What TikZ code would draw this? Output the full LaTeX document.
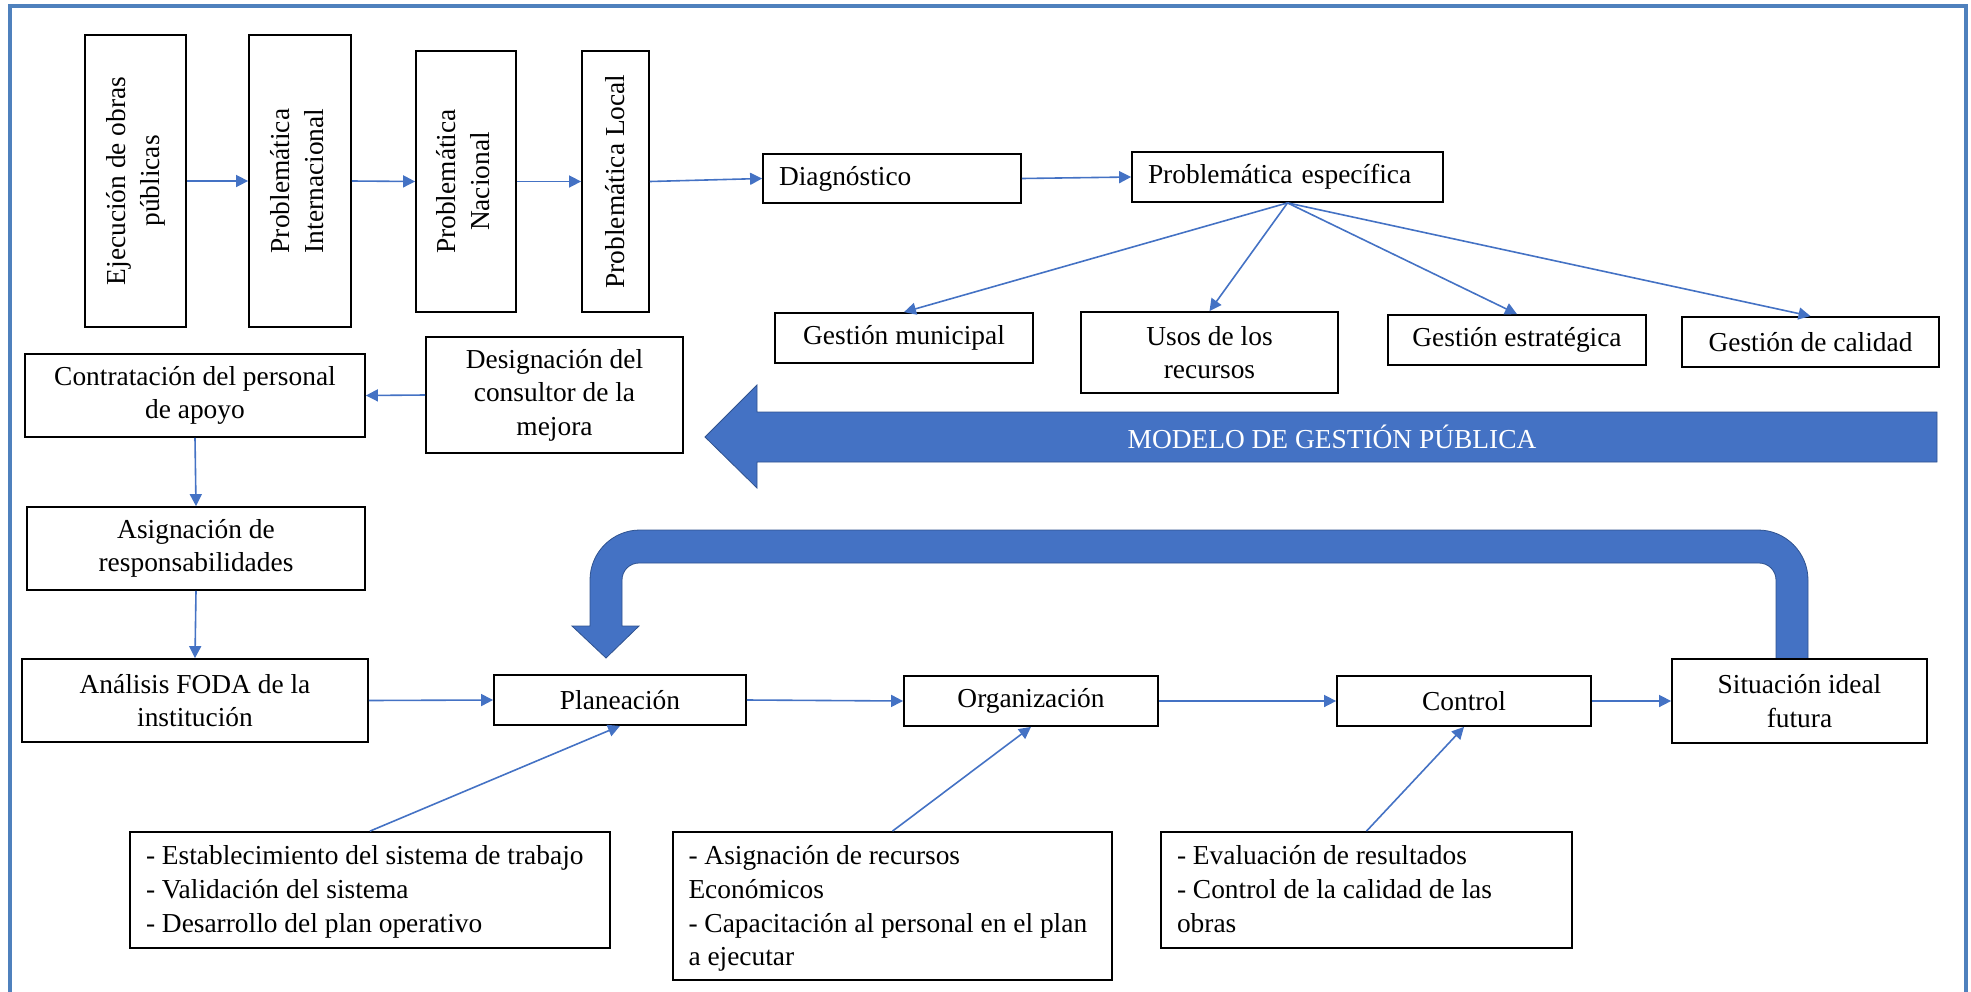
\documentclass[tikz,border=0pt]{standalone}
\usepackage{fontspec}
\setmainfont{Liberation Serif}
\usepackage{graphicx}
\usetikzlibrary{arrows.meta}
\definecolor{lineblue}{HTML}{4472C4}
\definecolor{frameblue}{HTML}{4F81BD}
\definecolor{arrowedge}{HTML}{2F528F}
\begin{document}
\begin{tikzpicture}[x=0.5pt,y=-0.5pt,
  box/.style={draw=black, line width=0.9pt, fill=white, inner sep=0pt, align=center,
    font=\fontsize{13.7}{16.8}\selectfont},
  lbox/.style={box, align=left, inner xsep=8pt},
  conn/.style={draw=lineblue, line width=0.8pt, -{Triangle[length=6pt,width=6pt]}},
  bigarrow/.style={fill=lineblue, draw=arrowedge, line width=0.4pt},
]
\useasboundingbox (0,0) rectangle (1971,991);
\clip (0,0) rectangle (1971,991);
% outer frame
\draw[frameblue, line width=1.6pt] (10,1000) -- (10,6) -- (1966,6) -- (1966,1000);

% big arrows
\fill[bigarrow] (705,437) -- (757,385) -- (757,412) -- (1937,412) -- (1937,462) -- (757,462) -- (757,488) -- cycle;
\node[text=white, font=\fontsize{13.7}{16.8}\selectfont] (modelo) at (1332,437) {MODELO DE GESTIÓN PÚBLICA};

\fill[bigarrow] (1808,660) -- (1808,580) .. controls (1808,552.4) and (1785.6,530) .. (1758,530)
  -- (640,530) .. controls (612.4,530) and (590,552.4) .. (590,580)
  -- (590,626) -- (572,626) -- (606,658) -- (639,626) -- (622,626)
  -- (622,580) .. controls (622,570.6) and (629.6,563) .. (639,563)
  -- (1759,563) .. controls (1768.4,563) and (1776,570.6) .. (1776,580)
  -- (1776,660) -- cycle;

% top row
\node[box, minimum width=50.5pt, minimum height=146pt] (ejec) at (135.5,181)
  {\rotatebox{90}{\begin{tabular}{@{}c@{}}Ejecución de obras\\públicas\end{tabular}}};
\node[box, minimum width=51pt, minimum height=146pt] (inter) at (300,181)
  {\rotatebox{90}{\begin{tabular}{@{}c@{}}Problemática\\Internacional\end{tabular}}};
\node[box, minimum width=50pt, minimum height=130.5pt] (nac) at (466,181.5)
  {\rotatebox{90}{\begin{tabular}{@{}c@{}}Problemática\\Nacional\end{tabular}}};
\node[box, minimum width=33.5pt, minimum height=130.5pt] (loc) at (615.5,181.5)
  {\rotatebox{90}{Problemática Local}};
\node[lbox, text width=113pt, minimum height=24.5pt] (diag) at (892,178.5) {Diagnóstico};
\node[lbox, text width=139.5pt, minimum height=25pt] (pe) at (1287.5,177) {Problemática específica};

\node[box, minimum width=129pt, minimum height=25pt] (gm) at (904,338) {Gestión municipal};
\node[box, minimum width=128.5pt, minimum height=40.5pt] (usos) at (1209.5,352.5) {Usos de los\\recursos};
\node[box, minimum width=129pt, minimum height=25pt] (ge) at (1517,340) {Gestión estratégica};
\node[box, minimum width=128.5pt, minimum height=25pt] (gc) at (1810.5,342) {Gestión de calidad};

% left column
\node[box, minimum width=170pt, minimum height=41.5pt] (contr) at (195,395.5) {Contratación del personal\\de apoyo};
\node[box, minimum width=128.5pt, minimum height=58pt] (desig) at (554.5,395) {Designación del\\consultor de la\\mejora};
\node[box, minimum width=169pt, minimum height=41.5pt] (asig) at (196,548.5) {Asignación de\\responsabilidades};
\node[box, minimum width=173pt, minimum height=41.5pt] (foda) at (195,700.5) {Análisis FODA de la\\institución};

% process row
\node[box, minimum width=126pt, minimum height=25pt] (plan) at (620,700) {Planeación};
\node[box, minimum width=127pt, minimum height=25pt] (org) at (1031,701) {Organización};
\node[box, minimum width=127pt, minimum height=25pt] (ctrl) at (1464,701) {Control};
\node[box, minimum width=127.5pt, minimum height=42pt] (sit) at (1799.5,701) {Situación ideal\\futura};

% bottom boxes
\node[box, minimum width=240pt, minimum height=58pt] (b1) at (370,890)
  {\begin{minipage}[c][58pt][t]{224pt}\raggedright\vspace*{4.7pt}\strut
   - Establecimiento del sistema de trabajo\\
   - Validación del sistema\\
   - Desarrollo del plan operativo\end{minipage}};
\node[box, minimum width=219.5pt, minimum height=74pt] (b2) at (892.5,906)
  {\begin{minipage}[c][74pt][t]{204pt}\raggedright\vspace*{4.7pt}\strut
   - Asignación de recursos\\
   Económicos\\
   - Capacitación al personal en el plan\\
   a ejecutar\end{minipage}};
\node[box, minimum width=205.5pt, minimum height=58pt] (b3) at (1366.5,890)
  {\begin{minipage}[c][58pt][t]{189.5pt}\raggedright\vspace*{4.7pt}\strut
   - Evaluación de resultados\\
   - Control de la calidad de las\\
   obras\end{minipage}};

% connectors
\draw[conn] (ejec.east) -- (inter.west);
\draw[conn] (inter.east) -- (nac.west);
\draw[conn] (nac.east) -- (loc.west);
\draw[conn] (loc.east) -- (diag.west);
\draw[conn] (diag.east) -- (pe.west);
\draw[conn] (pe.south) -- (gm.north);
\draw[conn] (pe.south) -- (usos.north);
\draw[conn] (pe.south) -- (ge.north);
\draw[conn] (pe.south) -- (gc.north);
\draw[conn] (desig.west) -- (contr.east);
\draw[conn] (contr.south) -- (asig.north);
\draw[conn] (asig.south) -- (foda.north);
\draw[conn] (foda.east) -- (plan.west);
\draw[conn] (plan.east) -- (org.west);
\draw[conn] (org.east) -- (ctrl.west);
\draw[conn] (ctrl.east) -- (sit.west);
\draw[conn] (b1.north) -- (plan.south);
\draw[conn] (b2.north) -- (org.south);
\draw[conn] (b3.north) -- (ctrl.south);
\end{tikzpicture}
\end{document}
